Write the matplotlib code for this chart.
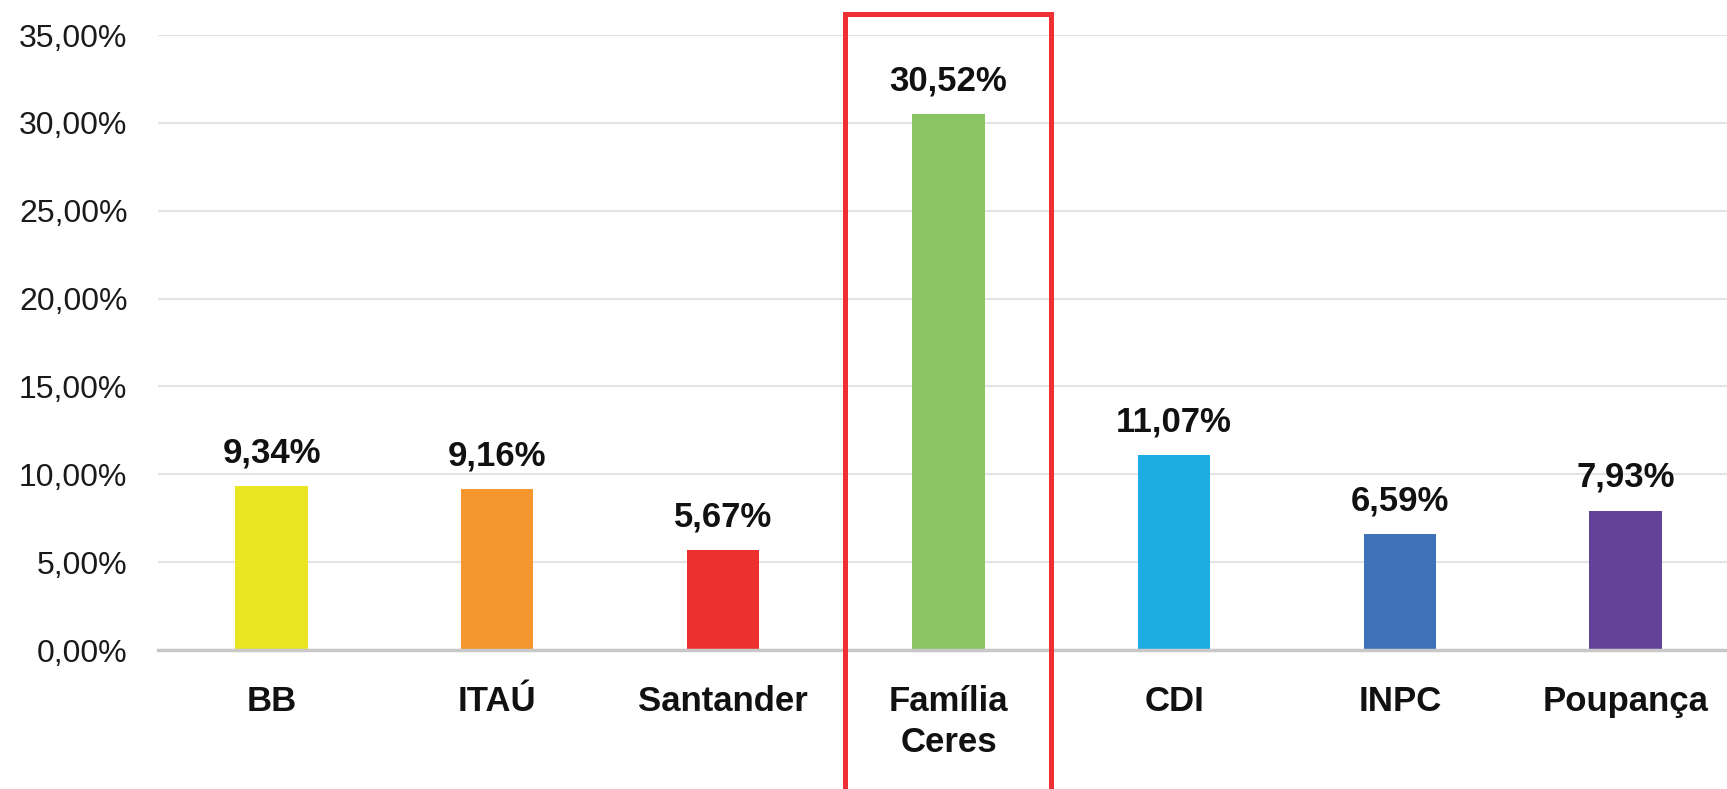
import matplotlib
matplotlib.use("Agg")
import matplotlib.pyplot as plt
from matplotlib.patches import Rectangle
import matplotlib.transforms as mtransforms

categories = ["BB", "ITAÚ", "Santander", "Família\nCeres", "CDI", "INPC", "Poupança"]
values = [9.34, 9.16, 5.67, 30.52, 11.07, 6.59, 7.93]
colors = ["#EAE622", "#F6962E", "#ED2F2E", "#8BC563", "#1DADE2", "#3F72B8", "#634397"]
yticks = [0, 5, 10, 15, 20, 25, 30, 35]
highlight_index = 3

plt.rcParams['font.family'] = ['Liberation Sans', 'DejaVu Sans']

fig = plt.figure(figsize=(17.27, 7.89), dpi=100)
ax = fig.add_axes([158/1727, 1-650/789, 1-158/1727, (650-35)/789])

x = list(range(len(categories)))
ax.bar(x, values, width=0.32, color=colors, zorder=3)
ax.set_xlim(-0.503, 6.45)
ax.set_ylim(0, 35)
ax.set_yticks(yticks)
ax.set_yticklabels([f"{v:.2f}".replace(".", ",") + "%" for v in yticks], fontsize=23, color="#1a1a1a")
ax.set_xticks(x)
ax.set_xticklabels(categories, fontsize=25, fontweight="bold", color="#111111", linespacing=1.32)
ax.tick_params(axis="y", length=0, pad=22)
ax.tick_params(axis="x", length=0, pad=25)
ax.grid(axis="y", color="#E3E3E3", linewidth=1.5, zorder=0)
for s in ["top", "right", "left"]:
    ax.spines[s].set_visible(False)
ax.spines["bottom"].set_color("#C8C8C8")
ax.spines["bottom"].set_linewidth(2.5)
ax.spines["bottom"].set_zorder(4)

for xi, v in zip(x, values):
    ax.annotate(f"{v:.2f}".replace(".", ",") + "%", (xi, v), xytext=(0, 12),
                textcoords="offset points", ha="center", va="bottom",
                fontsize=25, fontweight="bold", color="#111111")

trans = mtransforms.blended_transform_factory(ax.transData, fig.transFigure)
rect = Rectangle((highlight_index - 0.46, -0.05), 0.913, 1 - 14/789 + 0.05,
                 transform=trans, fill=False, edgecolor="#EE2F33", linewidth=3.6,
                 clip_on=False, zorder=5)
fig.patches.append(rect)

fig.savefig("out.png", dpi=100)
